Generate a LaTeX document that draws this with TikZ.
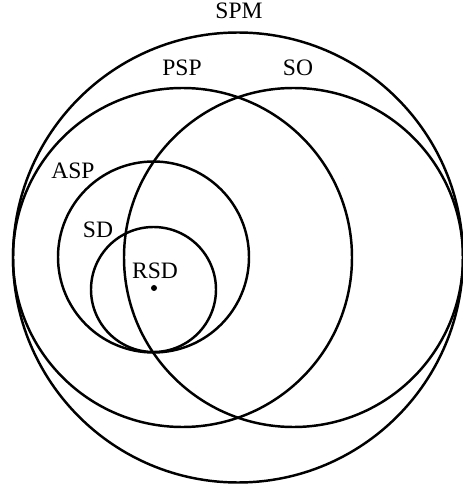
\documentclass[tikz,border=0pt]{standalone}
\usepackage{fontspec}
\setmainfont{Liberation Serif}
\begin{document}
\begin{tikzpicture}[scale=0.2, line width=1.4pt, font=\fontsize{13.4}{15}\selectfont]
    \useasboundingbox (0, 0) rectangle (46.2, 48.8);

    % Outer set
    \draw (23.8, 23.05) circle (22.5);
    \node (spm) at (23.9, 47.7) {SPM};

    % Two overlapping sets
    \draw (18.25, 23.05) circle (16.95);
    \node (psp) at (18.2, 42.0) {PSP};
    \draw (29.35, 23.05) circle (16.95);
    \node (so) at (29.8, 42.0) {SO};

    % Nested sets
    \draw (15.35, 23.1) circle (9.55);
    \node (asp) at (7.3, 31.7) {ASP};
    \draw (15.35, 19.85) circle (6.25);
    \node (sd) at (9.8, 25.8) {SD};

    % Single point
    \fill (15.4, 20.0) circle (0.3);
    \node (rsd) at (15.5, 21.7) {RSD};
\end{tikzpicture}
\end{document}
